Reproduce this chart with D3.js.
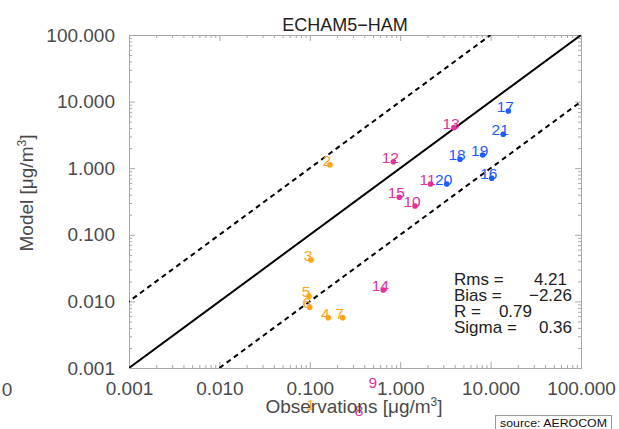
<!DOCTYPE html>
<html>
<head>
<meta charset="utf-8">
<script src="https://cdn.jsdelivr.net/npm/d3@7/dist/d3.min.js"></script>
<style>
  html, body { margin: 0; padding: 0; background: #fff; }
  svg { display: block; font-family: "Liberation Sans", Arial, Helvetica, sans-serif; }
</style>
</head>
<body>
<svg id="chart" width="619" height="429"></svg>
<script>
// ---- data ----
const stationIds = [1,2,3,4,5,6,7,8,9,10,11,12,13,14,15,16,17,18,19,20,21];
const observations = [0.110,0.167,0.103,0.160,0.098,0.100,0.231,0.378,0.536,1.46,2.17,0.84,3.94,0.65,0.977,10.3,15.7,4.59,8.18,3.27,13.8];
const modelValues = [0.00024,1.12,0.042,0.0057,0.012,0.0082,0.0057,0.00020,0.00052,0.27,0.58,1.25,4.06,0.0148,0.366,0.705,7.22,1.36,1.58,0.58,3.23];
const stationGroup = ["A","A","A","A","A","A","A","B","B","B","B","B","B","B","B","C","C","C","C","C","C"];
const groupNames = ["A","B","C"];
const groupColors = ["#ffa31a","#e0329c","#1f5cff"];
const majorTicks = [0.001,0.01,0.1,1,10,100];
const statLabels = ["Rms =","Bias =","R =","Sigma ="];
const statValues = ["4.21","\u22122.26","0.79","0.36"];
const titleText = "ECHAM5\u2212HAM";

// ---- layout ----
const svg = d3.select("#chart");
const L = 129, R = 581, T = 35, B = 368;
const x = d3.scaleLog().domain([0.001,100]).range([L,R]);
const y = d3.scaleLog().domain([0.001,100]).range([B,T]);
const color = d3.scaleOrdinal().domain(groupNames).range(groupColors);

const minorTicks = [];
for (let e = -3; e < 2; e++) for (let m = 2; m <= 9; m++) minorTicks.push(m * Math.pow(10, e));

const frameColor = "#a8a8a8";
const labelColor = "#4a4a4a";
const fmt = d3.format(".3f");

function styleAxis(g) {
  g.select(".domain").attr("stroke", frameColor).attr("stroke-width", 1);
  g.selectAll(".tick line").attr("stroke", frameColor);
  g.selectAll("text").attr("fill", labelColor).attr("font-size", 19)
   .attr("font-family", "'Liberation Sans', Arial, sans-serif");
}

// bottom
svg.append("g").attr("transform", `translate(0,${B})`)
  .call(d3.axisBottom(x).tickValues(majorTicks).tickFormat(fmt).tickSizeInner(-6).tickSizeOuter(0).tickPadding(14))
  .call(styleAxis);
svg.append("g").attr("transform", `translate(0,${B})`)
  .call(d3.axisBottom(x).tickValues(minorTicks).tickFormat("").tickSizeInner(-3).tickSizeOuter(0))
  .call(styleAxis);
// top
svg.append("g").attr("transform", `translate(0,${T})`)
  .call(d3.axisTop(x).tickValues(majorTicks).tickFormat("").tickSizeInner(-6).tickSizeOuter(0))
  .call(styleAxis);
svg.append("g").attr("transform", `translate(0,${T})`)
  .call(d3.axisTop(x).tickValues(minorTicks).tickFormat("").tickSizeInner(-3).tickSizeOuter(0))
  .call(styleAxis);
// left
svg.append("g").attr("transform", `translate(${L},0)`)
  .call(d3.axisLeft(y).tickValues(majorTicks).tickFormat(fmt).tickSizeInner(-6).tickSizeOuter(0).tickPadding(14))
  .call(styleAxis);
svg.append("g").attr("transform", `translate(${L},0)`)
  .call(d3.axisLeft(y).tickValues(minorTicks).tickFormat("").tickSizeInner(-3).tickSizeOuter(0))
  .call(styleAxis);
// right
svg.append("g").attr("transform", `translate(${R},0)`)
  .call(d3.axisRight(y).tickValues(majorTicks).tickFormat("").tickSizeInner(-6).tickSizeOuter(0))
  .call(styleAxis);
svg.append("g").attr("transform", `translate(${R},0)`)
  .call(d3.axisRight(y).tickValues(minorTicks).tickFormat("").tickSizeInner(-3).tickSizeOuter(0))
  .call(styleAxis);

// stray "0" at far left
svg.append("text").attr("x", 7).attr("y", B + 14 + 13.5).attr("text-anchor", "middle")
  .attr("font-size", 19).attr("fill", labelColor).text("0");

// clip
svg.append("clipPath").attr("id", "plotclip").append("rect")
  .attr("x", L).attr("y", T).attr("width", R - L).attr("height", B - T);

// reference lines: 1:1, x10, x0.1
const refLine = d3.line().x(d => x(d[0])).y(d => y(d[1]));
const lines = svg.append("g").attr("clip-path", "url(#plotclip)");
lines.append("path").attr("d", refLine([[0.001,0.001],[100,100]]))
  .attr("stroke", "#000").attr("stroke-width", 2).attr("fill", "none");
lines.append("path").attr("d", refLine([[0.0001,0.001],[10,100]]))
  .attr("stroke", "#000").attr("stroke-width", 2).attr("stroke-dasharray", "5,4").attr("fill", "none");
lines.append("path").attr("d", refLine([[0.01,0.001],[1000,100]]))
  .attr("stroke", "#000").attr("stroke-width", 2).attr("stroke-dasharray", "5,4").attr("fill", "none");

// points
const pts = stationIds.map((id, i) => ({ id, obs: observations[i], mod: modelValues[i], g: stationGroup[i] }));
svg.append("g").attr("clip-path", "url(#plotclip)").selectAll("circle").data(pts).join("circle")
  .attr("cx", d => x(d.obs)).attr("cy", d => y(d.mod)).attr("r", 2.8)
  .attr("fill", d => color(d.g));
svg.append("g").selectAll("text").data(pts).join("text")
  .attr("x", d => x(d.obs) - 3).attr("y", d => y(d.mod) + 1)
  .attr("text-anchor", "middle").attr("font-size", 15.5)
  .attr("fill", d => color(d.g)).text(d => d.id);

// title
svg.append("text").attr("x", 345).attr("y", 31).attr("text-anchor", "middle")
  .attr("font-size", 18).attr("fill", "#222").text(titleText);

// axis titles
const xt = svg.append("text").attr("x", 354).attr("y", 413).attr("text-anchor", "middle")
  .attr("font-size", 19).attr("fill", labelColor);
xt.append("tspan").text("Observations [\u03bcg/m");
xt.append("tspan").attr("dy", -7).attr("font-size", 12).text("3");
xt.append("tspan").attr("dy", 7).text("]");

const yt = svg.append("text").attr("transform", "translate(33,193) rotate(-90)").attr("text-anchor", "middle")
  .attr("font-size", 19).attr("fill", labelColor);
yt.append("tspan").text("Model [\u03bcg/m");
yt.append("tspan").attr("dy", -7).attr("font-size", 12).text("3");
yt.append("tspan").attr("dy", 7).text("]");

// stats
const statX = [454, 454, 454, 454];
const statValRight = [567, 572, 532, 572];
const statY = [285, 301, 317, 333];
statLabels.forEach((s, i) => {
  svg.append("text").attr("x", statX[i]).attr("y", statY[i]).attr("font-size", 17)
    .attr("fill", "#222").text(s);
  svg.append("text").attr("x", statValRight[i]).attr("y", statY[i]).attr("font-size", 17)
    .attr("text-anchor", "end").attr("fill", "#222").text(statValues[i]);
});

// source box
svg.append("rect").attr("x", 495.5).attr("y", 415.5).attr("width", 116).attr("height", 16)
  .attr("fill", "#fff").attr("stroke", "#999");
svg.append("text").attr("x", 500).attr("y", 427).attr("font-size", 11.5)
  .attr("textLength", 107).attr("lengthAdjust", "spacingAndGlyphs")
  .attr("fill", "#111").text("source: AEROCOM");
</script>
</body>
</html>
